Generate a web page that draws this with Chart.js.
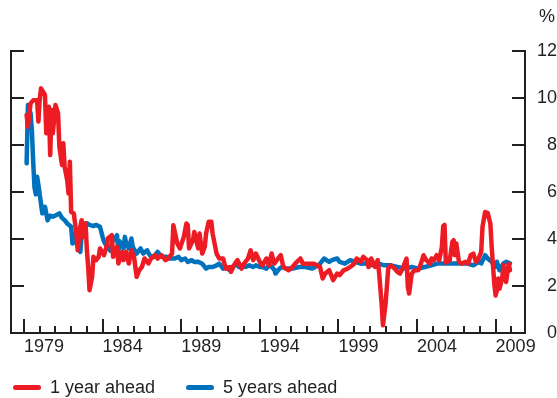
<!DOCTYPE html>
<html>
<head>
<meta charset="utf-8">
<script src="https://cdn.jsdelivr.net/npm/chart.js@4.4.1/dist/chart.umd.min.js"></script>
<style>
  html, body { margin: 0; padding: 0; background: #fff; }
  #wrap { position: relative; width: 557px; height: 398px; }
  #chart { display: block; }
  #legend {
    position: absolute; left: 13px; top: 378px; height: 18px;
    display: flex; align-items: center;
    font: 18px 'Liberation Sans', Arial, sans-serif; color: #231f20;
  }
  .item { display: flex; align-items: center; margin-right: 31px; line-height: 18px; white-space: nowrap; }
  .swatch { width: 28px; height: 5px; border-radius: 2.5px; margin-right: 9px; }
</style>
</head>
<body>
<div id="wrap">
  <canvas id="chart" width="557" height="398"></canvas>
  <div id="legend"></div>
</div>
<script>
// Expected inflation, 1 year and 5 years ahead (%), monthly survey readings
const oneYearDates = ['1979-03','1979-04','1979-06','1979-08','1979-11','1979-12','1980-01','1980-02','1980-05','1980-06','1980-08','1980-09','1980-10','1980-11','1981-01','1981-03','1981-04','1981-06','1981-07','1981-08','1981-10','1981-11','1981-12','1982-01','1982-03','1982-04','1982-05','1982-06','1982-08','1982-09','1982-10','1982-12','1983-01','1983-02','1983-03','1983-05','1983-06','1983-08','1983-10','1983-11','1983-12','1984-02','1984-04','1984-05','1984-08','1984-09','1984-12','1985-01','1985-04','1985-05','1985-07','1985-09','1985-11','1986-01','1986-03','1986-05','1986-07','1986-09','1986-12','1987-02','1987-05','1987-07','1987-10','1988-01','1988-03','1988-06','1988-07','1988-10','1988-12','1989-03','1989-05','1989-06','1989-07','1989-10','1989-11','1990-02','1990-03','1990-05','1990-07','1990-08','1990-10','1990-12','1991-01','1991-04','1991-06','1991-09','1991-11','1992-02','1992-03','1992-06','1992-08','1992-11','1993-01','1993-04','1993-06','1993-08','1993-10','1994-01','1994-03','1994-06','1994-08','1994-10','1994-12','1995-03','1995-05','1995-07','1995-11','1996-02','1996-04','1996-08','1996-10','1997-02','1997-06','1997-09','1997-11','1998-01','1998-03','1998-06','1998-08','1998-09','1998-12','1999-02','1999-05','1999-08','1999-10','2000-01','2000-03','2000-06','2000-08','2000-11','2000-12','2001-02','2001-05','2001-07','2001-08','2001-10','2001-11','2002-01','2002-02','2002-03','2002-05','2002-08','2002-10','2002-12','2003-02','2003-05','2003-06','2003-07','2003-09','2003-11','2004-02','2004-04','2004-06','2004-08','2004-11','2004-12','2005-02','2005-04','2005-06','2005-08','2005-09','2005-10','2005-11','2006-02','2006-04','2006-05','2006-06','2006-07','2006-09','2006-11','2007-02','2007-04','2007-06','2007-08','2007-10','2007-12','2008-02','2008-03','2008-05','2008-07','2008-09','2008-10','2008-11','2008-12','2009-01','2009-02','2009-03','2009-04','2009-06','2009-07','2009-08','2009-09','2009-11','2009-12'];
const oneYearAhead = [9.28,8.78,9.77,9.90,9.90,9.00,9.95,10.41,10.13,8.50,9.63,7.57,9.49,8.50,9.70,9.35,7.93,7.15,8.07,7.07,6.50,5.94,7.29,5.15,5.09,4.66,4.23,3.52,4.52,4.80,4.09,4.67,3.52,2.81,1.82,2.39,3.24,3.10,3.24,3.60,3.50,3.31,3.67,4.02,4.16,3.24,3.67,2.96,3.45,3.10,3.45,2.96,3.52,3.24,2.39,2.67,2.81,3.17,2.96,3.17,3.31,3.17,3.31,3.10,3.17,3.38,4.59,3.81,3.60,4.09,4.66,4.59,3.60,3.95,4.30,3.60,4.23,3.38,3.67,4.23,4.73,4.73,4.23,3.38,3.17,3.17,2.74,2.81,2.60,2.95,3.10,2.74,2.95,3.17,3.52,3.10,3.38,3.03,2.88,3.17,2.88,3.38,2.95,3.17,3.31,2.81,2.67,2.81,2.95,3.17,2.95,2.95,2.95,2.88,2.81,2.32,2.53,2.67,2.39,2.25,2.53,2.46,2.67,2.74,2.81,2.95,3.17,3.03,3.24,3.10,2.81,3.17,2.81,3.10,2.60,1.25,0.33,1.25,1.96,2.74,2.88,2.74,2.60,2.53,2.74,3.17,1.96,1.68,2.53,2.67,2.67,2.95,3.31,3.10,2.95,3.17,3.10,3.31,3.10,3.67,4.55,4.60,3.00,3.10,3.88,3.95,3.31,3.81,3.03,2.95,3.03,2.95,3.31,3.38,3.03,3.17,3.45,4.52,5.15,5.10,4.66,3.67,2.88,2.10,1.60,1.82,2.32,1.89,2.32,2.88,2.53,2.17,2.95,2.67];

const fiveYearDates = ['1979-03','1979-04','1979-06','1979-07','1979-08','1979-09','1979-10','1979-11','1979-12','1980-01','1980-03','1980-05','1980-07','1980-09','1980-11','1981-01','1981-04','1981-06','1981-08','1981-10','1982-01','1982-02','1982-03','1982-04','1982-06','1982-08','1982-09','1982-11','1983-01','1983-03','1983-06','1983-08','1983-11','1984-01','1984-02','1984-04','1984-07','1984-08','1984-12','1985-01','1985-02','1985-05','1985-06','1985-07','1985-09','1985-11','1985-12','1986-03','1986-06','1986-08','1986-11','1987-01','1987-04','1987-07','1987-10','1988-02','1988-04','1988-08','1988-11','1989-01','1989-04','1989-06','1989-09','1989-11','1990-02','1990-05','1990-08','1990-10','1991-01','1991-04','1991-06','1991-09','1991-11','1992-02','1992-04','1992-07','1992-09','1992-12','1993-02','1993-05','1993-08','1993-10','1994-01','1994-03','1994-06','1994-08','1994-10','1994-12','1995-01','1995-04','1995-06','1995-09','1996-02','1996-07','1996-12','1997-05','1997-10','1998-02','1998-06','1998-08','1998-12','1999-02','1999-06','1999-10','2000-02','2000-06','2000-09','2001-02','2001-07','2001-12','2002-05','2002-10','2003-04','2003-09','2004-02','2004-07','2004-12','2005-05','2005-10','2006-03','2006-10','2007-03','2007-08','2007-12','2008-02','2008-05','2008-07','2008-10','2009-01','2009-02','2009-04','2009-07','2009-09','2009-12'];
const fiveYearsAhead = [7.22,9.70,9.35,8.64,7.30,6.20,5.90,6.65,6.30,5.90,5.09,5.37,4.80,4.99,4.95,5.00,5.09,4.90,4.80,4.66,4.52,3.81,4.20,3.95,3.67,3.45,4.20,4.52,4.67,4.60,4.55,4.60,4.52,4.09,3.90,3.70,3.50,3.85,4.16,3.45,3.90,3.60,4.09,3.81,3.60,4.02,3.67,3.38,3.60,3.38,3.52,3.31,3.24,3.45,3.24,3.24,3.17,3.17,3.24,3.10,3.17,3.02,3.10,3.02,3.03,2.95,2.74,2.81,2.81,2.88,2.95,2.74,2.81,2.67,2.81,2.95,2.81,2.88,2.81,2.88,2.81,2.88,2.81,2.81,2.74,2.88,2.81,2.70,2.53,2.74,2.81,2.74,2.74,2.81,2.81,2.74,2.88,3.17,3.03,3.10,3.17,3.03,2.95,3.10,3.03,2.95,2.96,2.88,2.96,2.88,2.88,2.81,2.74,2.81,2.74,2.81,2.88,2.96,2.96,2.96,2.96,2.96,2.88,3.03,2.96,3.31,3.17,3.03,2.81,3.03,2.67,2.96,3.03,2.96];

const yearTicks = [1979, 1984, 1989, 1994, 1999, 2004, 2009];
const valueTicks = [0, 2, 4, 6, 8, 10, 12];
const seriesNames = ['1 year ahead', '5 years ahead'];

const RED = '#ed1c24';
const BLUE = '#0071bc';
const INK = '#231f20';
const FONT = "'Liberation Sans', Arial, sans-serif";

// 'YYYY-MM' -> decimal year (January = whole year)
function toYear(s) {
  const [y, m] = s.split('-').map(Number);
  return y + (m - 1) / 12;
}
function points(dates, values) {
  return dates.map((d, i) => ({ x: toYear(d), y: values[i] }));
}

// Inward tick marks on the frame plus the unit label
const frameTicks = {
  id: 'frameTicks',
  afterDraw(chart) {
    const { ctx, chartArea: a, scales } = chart;
    const x = scales.x, y = scales.y;
    ctx.save();
    ctx.strokeStyle = INK;
    ctx.lineWidth = 2;
    ctx.beginPath();
    for (let yr = yearTicks[0]; yr <= 2010; yr++) {
      const px = Math.round(x.getPixelForValue(yr));
      const len = (yr - yearTicks[0]) % 5 === 0 ? 14 : 7;
      ctx.moveTo(px, a.bottom);
      ctx.lineTo(px, a.bottom - len);
    }
    for (const v of valueTicks) {
      if (v === 0) continue;
      const py = Math.round(y.getPixelForValue(v));
      ctx.moveTo(a.left, py); ctx.lineTo(a.left + 13, py);
      ctx.moveTo(a.right, py); ctx.lineTo(a.right - 13, py);
    }
    ctx.stroke();
    ctx.fillStyle = INK;
    ctx.font = '18px ' + FONT;
    ctx.textAlign = 'right';
    ctx.textBaseline = 'middle';
    ctx.fillText('%', chart.width - 2, 17);
    ctx.restore();
  }
};

const chart = new Chart(document.getElementById('chart'), {
  type: 'line',
  data: {
    datasets: [
      { label: seriesNames[0], data: points(oneYearDates, oneYearAhead), borderColor: RED, backgroundColor: RED },
      { label: seriesNames[1], data: points(fiveYearDates, fiveYearsAhead), borderColor: BLUE, backgroundColor: BLUE }
    ]
  },
  options: {
    responsive: false,
    animation: false,
    devicePixelRatio: 1,
    layout: { padding: { top: 51, left: 11, right: 0, bottom: 35 } },
    elements: {
      point: { radius: 0 },
      line: { borderWidth: 4.5, tension: 0, borderJoinStyle: 'round', borderCapStyle: 'round' }
    },
    plugins: { legend: { display: false }, tooltip: { enabled: false } },
    scales: {
      x: {
        type: 'linear',
        min: 1978.173,
        max: 2010.87,
        grid: { display: false, drawTicks: false },
        border: { display: true, color: INK, width: 2 },
        afterBuildTicks: s => { s.ticks = yearTicks.map(v => ({ value: v })); },
        afterFit: s => { s.height = 30; },
        ticks: {
          autoSkip: false, maxRotation: 0, align: 'start', padding: 3,
          color: INK, font: { size: 18, family: FONT },
          callback: v => String(v)
        }
      },
      y: {
        position: 'left',
        min: 0, max: 12,
        grid: { display: false, drawTicks: false },
        border: { display: true, color: INK, width: 2 },
        ticks: { display: false },
        afterFit: s => { s.width = 0; }
      },
      y2: {
        position: 'right',
        min: 0, max: 12,
        grid: { display: false, drawTicks: false },
        border: { display: true, color: INK, width: 2 },
        afterBuildTicks: s => { s.ticks = valueTicks.map(v => ({ value: v })); },
        afterFit: s => { s.width = 32; },
        ticks: { crossAlign: 'far', padding: 13, color: INK, font: { size: 18, family: FONT } }
      }
    }
  },
  plugins: [frameTicks]
});

// HTML legend built from the chart's datasets
const legend = document.getElementById('legend');
chart.data.datasets.forEach(ds => {
  const item = document.createElement('div');
  item.className = 'item';
  const sw = document.createElement('span');
  sw.className = 'swatch';
  sw.style.background = ds.borderColor;
  const label = document.createElement('span');
  label.textContent = ds.label;
  item.append(sw, label);
  legend.append(item);
});
</script>
</body>
</html>
